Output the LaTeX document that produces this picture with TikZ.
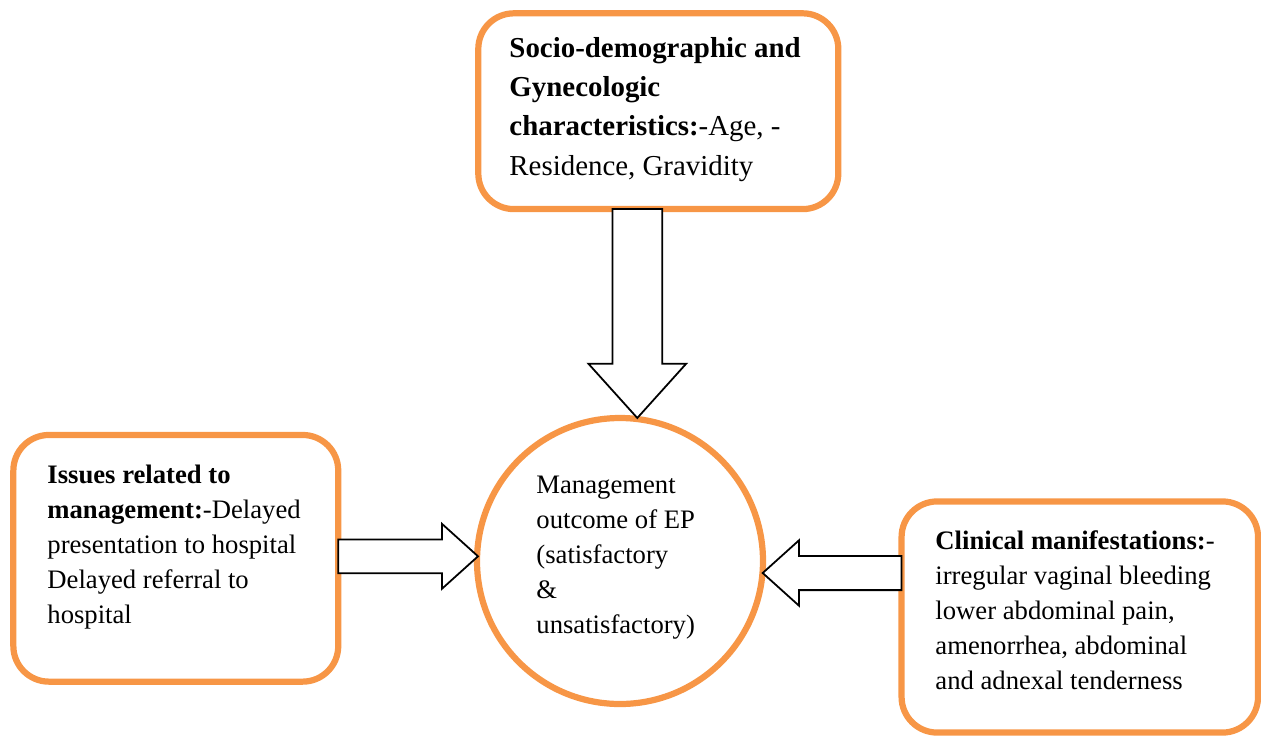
\documentclass[tikz,border=0pt]{standalone}
\usepackage{fontspec}
\setmainfont{Liberation Serif}
\usetikzlibrary{shapes.arrows,calc}
\definecolor{corange}{HTML}{F79646}
\tikzset{
  frame/.style={draw=corange, line width=2.8pt, rounded corners=16pt,
                outer sep=0pt, inner sep=0pt},
  body/.style={align=left, inner sep=0pt, font=\fontsize{12}{15.75}\selectfont},
  bodyl/.style={align=left, inner sep=0pt, font=\fontsize{13}{17.6}\selectfont},
  bigarrow/.style={single arrow, draw=black, fill=white, line width=0.8pt,
                   inner xsep=0pt, outer sep=0pt, single arrow tip angle=84},
}
\begin{document}
\begin{tikzpicture}[x=0.45pt, y=-0.45pt]
  \useasboundingbox (0,0) rectangle (1261,738);
  % factor boxes
  \node[frame, minimum width=162pt, minimum height=88.1pt] (soc) at (658.3,111.2) {};
  \node[frame, minimum width=146.2pt, minimum height=111pt] (iss) at (175.8,558.3) {};
  \node[frame, minimum width=160.4pt, minimum height=104pt] (clin) at (1079.8,617) {};
  % outcome
  \node[frame, circle, minimum size=128.7pt] (out) at (620,561) {};
  % texts (placed by the baseline of their last line)
  \node[bodyl, anchor=base west] (soct) at (509,175)
    {\textbf{Socio-demographic and}\\ \textbf{Gynecologic}\\
     \textbf{characteristics:}-Age, -\\ Residence, Gravidity};
  \node[body, anchor=base west] (isst) at (47,623)
    {\textbf{Issues related to}\\ \textbf{management:}-Delayed\\
     presentation to hospital\\ Delayed referral to\\ hospital};
  \node[body, anchor=base west] (outt) at (536,633)
    {Management\\ outcome of EP\\ (satisfactory\\ \&\\ unsatisfactory)};
  \node[body, anchor=base west] (clint) at (935,689)
    {\textbf{Clinical manifestations:}-\\ irregular vaginal bleeding\\
     lower abdominal pain,\\ amenorrhea, abdominal\\ and adnexal tenderness};
  % block arrows
  \node[bigarrow, rotate=270, anchor=tail, minimum height=94pt, inner ysep=10.8pt,
        single arrow head extend=10.8pt] (a1) at ($(soc.south)+(-21,0)$) {};
  \node[bigarrow, anchor=tail, minimum height=62.9pt, inner ysep=7.2pt,
        single arrow head extend=7pt] (a2) at ($(iss.east)+(0,-2)$) {};
  \node[bigarrow, rotate=180, anchor=tail, minimum height=62.5pt, inner ysep=7.3pt,
        single arrow head extend=7pt] (a3) at ($(clin.west)+(0,-44)$) {};
\end{tikzpicture}
\end{document}
